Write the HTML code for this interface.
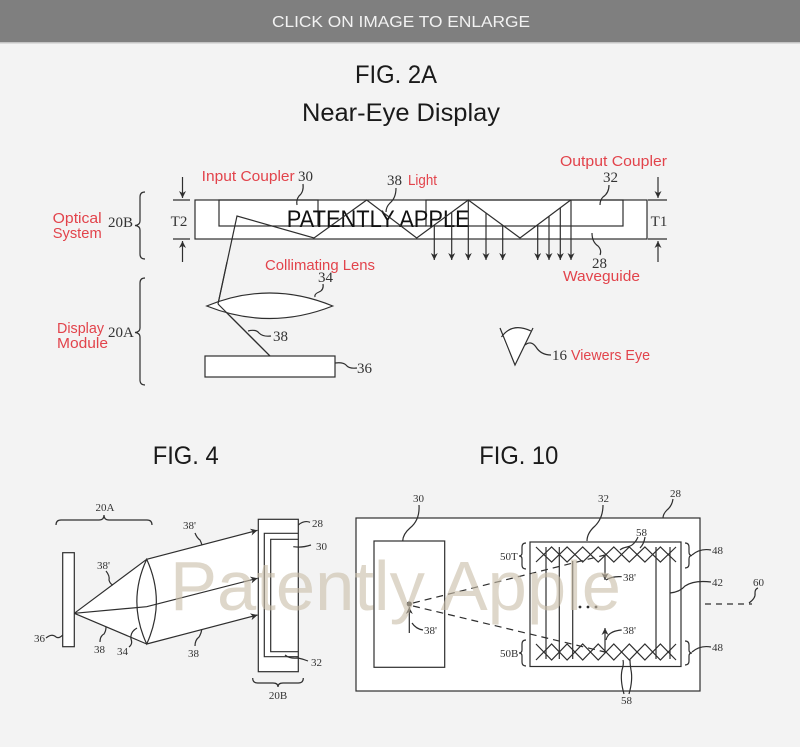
<!DOCTYPE html>
<html><head><meta charset="utf-8"><style>
html,body{margin:0;padding:0;background:#f3f3f3;}
svg{display:block;}
.s{fill:none;stroke:#2e2e2e;stroke-width:1.2;}
.w{fill:#fff;stroke:#2e2e2e;stroke-width:1.2;}
.r{font-family:"Liberation Sans",sans-serif;font-size:15px;fill:#e2434b;}
.n{font-family:"Liberation Serif",serif;font-size:15px;fill:#333;}
.m{font-family:"Liberation Serif",serif;font-size:11px;fill:#333;}
.t{font-family:"Liberation Sans",sans-serif;font-size:25px;fill:#1a1a1a;}
</style></head><body>
<svg width="800" height="747" viewBox="0 0 800 747" xmlns="http://www.w3.org/2000/svg">
<defs>
<marker id="a" viewBox="0 0 10 10" refX="10" refY="5" markerWidth="7" markerHeight="7" orient="auto" markerUnits="userSpaceOnUse">
<path d="M0,0 L10,5 L0,10 L3,5 Z" fill="#2e2e2e"/></marker>
</defs>
<rect x="0" y="0" width="800" height="747" fill="#f3f3f3"/>
<!-- header -->
<rect x="0" y="0" width="800" height="42" fill="#7f7f7f"/>
<rect x="0" y="42" width="800" height="1.5" fill="#c4c4c4"/>
<text x="401" y="27" text-anchor="middle" font-family="Liberation Sans, sans-serif" font-size="16" fill="#f2f2f2" textLength="258" lengthAdjust="spacingAndGlyphs">CLICK ON IMAGE TO ENLARGE</text>
<text class="t" x="396" y="83" text-anchor="middle" textLength="82" lengthAdjust="spacingAndGlyphs">FIG. 2A</text>
<text class="t" x="401" y="121" text-anchor="middle" textLength="198" lengthAdjust="spacingAndGlyphs">Near-Eye Display</text>
<text class="t" x="152.7" y="464" textLength="66" lengthAdjust="spacingAndGlyphs">FIG. 4</text>
<text class="t" x="479.3" y="464" textLength="79" lengthAdjust="spacingAndGlyphs">FIG. 10</text>

<!-- ===== FIG 2A ===== -->
<text class="r" x="52.7" y="223" textLength="49" lengthAdjust="spacingAndGlyphs">Optical</text>
<text class="r" x="52.7" y="238" textLength="49" lengthAdjust="spacingAndGlyphs">System</text>
<text class="n" x="108" y="227">20B</text>
<path class="s" d="M145,192 Q140,192 140,197 L140,221 Q140,225 135,225.5 Q140,226 140,230 L140,254 Q140,259 145,259"/>
<text class="r" x="57" y="333" textLength="47" lengthAdjust="spacingAndGlyphs">Display</text>
<text class="r" x="57" y="348" textLength="51" lengthAdjust="spacingAndGlyphs">Module</text>
<text class="n" x="108" y="337">20A</text>
<path class="s" d="M145,278 Q140,278 140,283 L140,328 Q140,332 135,332.5 Q140,333 140,337 L140,380 Q140,385 145,385"/>

<!-- T2 -->
<line class="s" x1="182.5" y1="177" x2="182.5" y2="198" marker-end="url(#a)"/>
<line class="s" x1="173" y1="200" x2="190" y2="200"/>
<line class="s" x1="173" y1="239" x2="190" y2="239"/>
<line class="s" x1="182.5" y1="262" x2="182.5" y2="241" marker-end="url(#a)"/>
<text class="n" x="179" y="226" text-anchor="middle">T2</text>
<!-- T1 -->
<line class="s" x1="658" y1="177" x2="658" y2="198" marker-end="url(#a)"/>
<line class="s" x1="648" y1="200" x2="667" y2="200"/>
<line class="s" x1="648" y1="239" x2="667" y2="239"/>
<line class="s" x1="658" y1="262" x2="658" y2="241" marker-end="url(#a)"/>
<text class="n" x="659" y="226" text-anchor="middle">T1</text>

<!-- waveguide -->
<rect class="w" x="195" y="200" width="452" height="39"/>
<rect class="s" x="219" y="200" width="99" height="26"/>
<rect class="s" x="426" y="200" width="197" height="26"/>
<line class="s" x1="318" y1="226" x2="426" y2="226"/>
<text x="286.7" y="227" font-family="Liberation Sans, sans-serif" font-size="24" fill="#111" textLength="183" lengthAdjust="spacingAndGlyphs">PATENTLY APPLE</text>
<!-- ray -->
<polyline class="s" stroke-width="1.6" points="270,356 218,304 237,216 314,238 366.7,200 416.7,238 468.3,200 520,238 570.7,200"/>
<!-- output arrows -->
<g class="s">
<line x1="434.3" y1="225" x2="434.3" y2="260" marker-end="url(#a)"/>
<line x1="451.7" y1="212" x2="451.7" y2="260" marker-end="url(#a)"/>
<line x1="468.3" y1="200" x2="468.3" y2="260" marker-end="url(#a)"/>
<line x1="486" y1="213" x2="486" y2="260" marker-end="url(#a)"/>
<line x1="502.7" y1="225" x2="502.7" y2="260" marker-end="url(#a)"/>
<line x1="537.7" y1="225" x2="537.7" y2="260" marker-end="url(#a)"/>
<line x1="549" y1="216" x2="549" y2="260" marker-end="url(#a)"/>
<line x1="560.3" y1="208" x2="560.3" y2="260" marker-end="url(#a)"/>
<line x1="571" y1="200" x2="571" y2="260" marker-end="url(#a)"/>
</g>
<!-- labels top -->
<text class="r" x="201.7" y="181" textLength="93" lengthAdjust="spacingAndGlyphs">Input Coupler</text>
<text class="n" x="298" y="181">30</text>
<path class="s" d="M303,184 Q304,192 299,196 Q296,200 297,205"/>
<text class="n" x="387" y="185">38</text>
<text class="r" x="408" y="185" textLength="29" lengthAdjust="spacingAndGlyphs">Light</text>
<path class="s" d="M396,188 Q396,198 390,203 Q386,207 386,212"/>
<text class="r" x="560" y="166" textLength="107" lengthAdjust="spacingAndGlyphs">Output Coupler</text>
<text class="n" x="603" y="182">32</text>
<path class="s" d="M609,185 Q609,193 603,197 Q600,200 600,205"/>
<path class="s" d="M592,233 Q592,242 598,246 Q602,250 600,255"/>
<text class="n" x="592" y="268">28</text>
<text class="r" x="563" y="281" textLength="77" lengthAdjust="spacingAndGlyphs">Waveguide</text>

<!-- lens / display -->
<text class="r" x="265" y="270" textLength="110" lengthAdjust="spacingAndGlyphs">Collimating Lens</text>
<text class="n" x="318" y="282">34</text>
<path class="s" d="M323,284 Q324,290 319,292 Q314,294 315,297"/>
<path class="w" d="M206.7,306 Q269.7,280 332.7,306 Q269.7,331 206.7,306 Z"/>
<line class="s" stroke-width="1.6" x1="270" y1="356" x2="218" y2="304"/>
<line class="s" stroke-width="1.6" x1="218" y1="304" x2="227" y2="262"/>
<path class="s" d="M248,331 Q256,329 259,333 Q263,337 271,336"/>
<text class="n" x="273" y="341">38</text>
<rect class="w" x="205" y="356" width="130" height="21"/>
<path class="s" d="M335,363 Q343,362 346,365 Q349,369 357,368"/>
<text class="n" x="357" y="373">36</text>

<!-- eye -->
<path d="M515,365 L501,336 Q513,320 531,331 Z" fill="#fff"/>
<polyline class="s" points="500,328 515,365 533,328"/>
<path class="s" d="M501.5,337 Q512,322 531,331"/>
<path class="s" d="M525,345 Q531,340 536,347 Q541,355 551,355"/>
<text class="n" x="552" y="360">16</text>
<text class="r" x="571" y="360" textLength="79" lengthAdjust="spacingAndGlyphs">Viewers Eye</text>

<!-- ===== FIG 4 ===== -->
<path class="s" d="M56,525 Q56,520 61,520 L99,520 Q104,520 104,515 Q104,520 109,520 L147,520 Q152,520 152,525"/>
<text class="m" x="105" y="511" text-anchor="middle">20A</text>
<polygon points="74.3,613.3 146.7,559.3 146.7,644" fill="#fff"/>
<polygon points="146.7,559.3 258,530 258,615 146.7,644" fill="#fff"/>
<rect class="w" x="62.7" y="552.7" width="11.6" height="94"/>
<path class="s" d="M46,638 Q52,633 56,637 Q59,639 62.7,635"/>
<text class="m" x="34" y="642">36</text>
<path class="w" d="M146.7,559.3 Q127,601.7 146.7,644 Q166,601.7 146.7,559.3 Z"/>
<g class="s" stroke-width="1.4">
<line x1="74.3" y1="613.3" x2="146.7" y2="559.3"/>
<line x1="74.3" y1="613.3" x2="146.7" y2="644"/>
<polyline points="74.3,613.3 146.7,606.7 257.5,578.3" marker-end="url(#a)" fill="none"/>
<line x1="146.7" y1="559.3" x2="257.5" y2="530.3" marker-end="url(#a)"/>
<line x1="146.7" y1="644" x2="257.5" y2="615" marker-end="url(#a)"/>
</g>
<text class="m" x="97" y="569">38'</text>
<path class="s" d="M106,571 Q110,576 109,580 Q110,584 113,585"/>
<text class="m" x="94" y="653">38</text>
<path class="s" d="M100,642 Q100,636 104,634 Q106,631 106,627"/>
<text class="m" x="117" y="655">34</text>
<path class="s" d="M129,647 Q133,644 131,639 Q130,632 137,628"/>
<text class="m" x="183" y="529">38'</text>
<path class="s" d="M195,533 Q197,538 200,540 Q201,542 202,545"/>
<text class="m" x="188" y="657">38</text>
<path class="s" d="M195,646 Q195,640 199,637 Q201,634 201.7,630"/>
<rect class="w" x="258.3" y="519.3" width="40" height="152.4"/>
<polyline class="s" points="298,533.3 264.3,533.3 264.3,656.7 298,656.7"/>
<polyline class="s" points="298,539.3 270.7,539.3 270.7,651.7 298,651.7"/>
<path class="s" d="M298.3,525 Q304,520 310,522.3"/>
<text class="m" x="312" y="527">28</text>
<path class="s" d="M293.3,546.7 Q302,548 311,545"/>
<text class="m" x="316" y="550">30</text>
<path class="s" d="M285,655 Q290,659 298,658 Q303,659 308,661"/>
<text class="m" x="311" y="666">32</text>
<path class="s" d="M252.7,678 Q252.7,683 257.7,683 L273,683 Q278,683 278,687 Q278,683 283,683 L298.3,683 Q303.3,683 303.3,678"/>
<text class="m" x="278" y="699" text-anchor="middle">20B</text>

<!-- ===== FIG 10 ===== -->
<rect class="w" x="356" y="518" width="344" height="173"/>
<path class="s" d="M673,499 Q672,506 667,510 Q663,514 663,518"/>
<text class="m" x="670" y="497">28</text>
<rect class="s" x="374" y="541" width="70.7" height="126.3"/>
<path class="s" d="M419,505 Q420,520 410,528 Q403,534 402.7,541"/>
<text class="m" x="413" y="502">30</text>
<circle cx="409.3" cy="604" r="2.6" fill="#2e2e2e"/>
<line class="s" x1="409.3" y1="633" x2="409.3" y2="607" marker-end="url(#a)"/>
<path class="s" d="M412,623 Q416,629 423,630"/>
<text class="m" x="424" y="634">38'</text>
<line class="s" stroke-dasharray="7,5" x1="413" y1="603" x2="605" y2="555"/>
<line class="s" stroke-dasharray="7,5" x1="413" y1="606" x2="605" y2="652"/>
<rect class="s" x="530" y="542" width="151" height="124.5"/>
<path class="s" d="M603,505 Q603,518 595,526 Q587,533 587,541"/>
<text class="m" x="598" y="502">32</text>
<g class="s" stroke-width="1.1">
<path d="M536,547 L551.6,562 L567.1,547 L582.7,562 L598.2,547 L613.8,562 L629.3,547 L644.9,562 L660.4,547 L676,562"/>
<path d="M536,562 L551.6,547 L567.1,562 L582.7,547 L598.2,562 L613.8,547 L629.3,562 L644.9,547 L660.4,562 L676,547"/>
<path d="M536,644 L551.6,660 L567.1,644 L582.7,660 L598.2,644 L613.8,660 L629.3,644 L644.9,660 L660.4,644 L676,660"/>
<path d="M536,660 L551.6,644 L567.1,660 L582.7,644 L598.2,660 L613.8,644 L629.3,660 L644.9,644 L660.4,660 L676,644"/>
<line x1="546" y1="547" x2="546" y2="659"/>
<line x1="559.3" y1="547" x2="559.3" y2="659"/>
<line x1="572.7" y1="561" x2="572.7" y2="659"/>
<line x1="656" y1="547" x2="656" y2="659"/>
<line x1="670" y1="547" x2="670" y2="659"/>
</g>
<line class="s" x1="605" y1="555" x2="605" y2="580" marker-end="url(#a)"/>
<line class="s" x1="605" y1="653" x2="605" y2="628" marker-end="url(#a)"/>
<path class="s" d="M606,580 Q612,576 621.7,576.7"/>
<text class="m" x="623" y="581">38'</text>
<path class="s" d="M606,640 Q608,631 621.7,630"/>
<text class="m" x="623" y="634">38'</text>
<circle cx="580" cy="607" r="1.4" fill="#2e2e2e"/>
<circle cx="588" cy="607" r="1.4" fill="#2e2e2e"/>
<circle cx="596" cy="607" r="1.4" fill="#2e2e2e"/>
<text class="m" x="500" y="560">50T</text>
<path class="s" d="M526,543 Q522,543 522,547 L522,553 Q522,556 519,556 Q522,556 522,559 L522,565 Q522,569 526,569"/>
<text class="m" x="500" y="657">50B</text>
<path class="s" d="M526,640 Q522,640 522,644 L522,650 Q522,653 519,653 Q522,653 522,656 L522,662 Q522,666 526,666"/>
<path class="s" d="M685,543 Q689,543 689,547 L689,552 Q689,555.5 692,555.5 Q689,555.5 689,559 L689,564 Q689,568 685,568"/>
<path class="s" d="M692,555 Q700,548 711,550"/>
<text class="m" x="712" y="554">48</text>
<path class="s" d="M685,641 Q689,641 689,645 L689,650 Q689,653 692,653 Q689,653 689,656 L689,661 Q689,665 685,665"/>
<path class="s" d="M692,652 Q700,645 711,647"/>
<text class="m" x="712" y="651">48</text>
<path class="s" d="M670,593 Q680,592 685,586 Q694,580 711,582"/>
<text class="m" x="712" y="586">42</text>
<line class="s" stroke-dasharray="6,5" x1="705" y1="604" x2="752" y2="604"/>
<path class="s" d="M749,603 Q756,598 755,593 Q755,589 758,588"/>
<text class="m" x="753" y="586">60</text>
<text class="m" x="636" y="536">58</text>
<path class="s" d="M638,537 Q634,546 627,547 Q622,548 620,550"/>
<path class="s" d="M645,537 Q644,544 640,548"/>
<text class="m" x="621" y="704">58</text>
<path class="s" d="M624,694 Q620,680 622,670 Q624,664 623,660"/>
<path class="s" d="M629,694 Q633,680 631,670 Q630,664 630,660"/>

<!-- watermark -->
<text x="170" y="610" font-family="Liberation Sans, sans-serif" font-size="70" fill="#c9bfa9" fill-opacity="0.62" textLength="451" lengthAdjust="spacingAndGlyphs">Patently Apple</text>
</svg>
</body></html>
